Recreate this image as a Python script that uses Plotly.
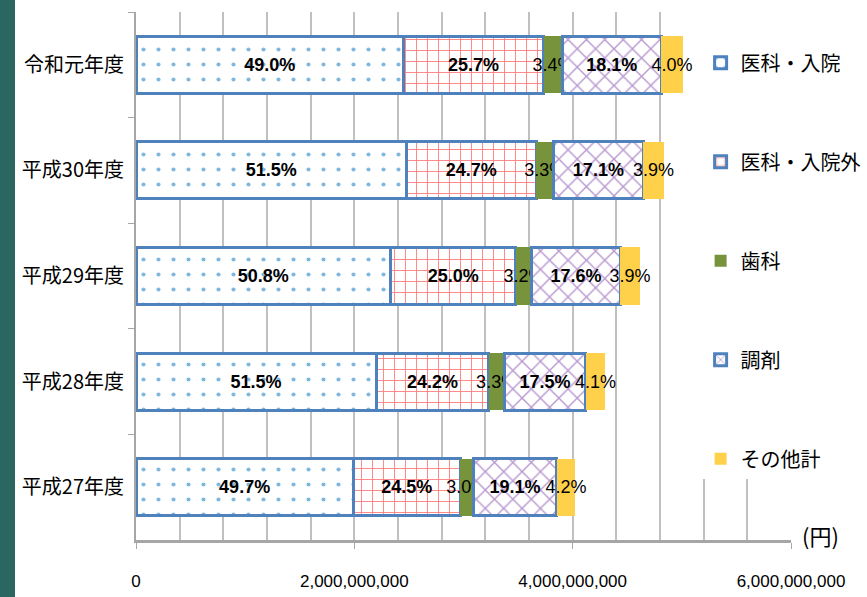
import plotly.graph_objects as go

categories = ["令和元年度", "平成30年度", "平成29年度", "平成28年度", "平成27年度"]
series_names = ["医科・入院", "医科・入院外", "歯科", "調剤", "その他計"]

# amounts in yen
inpatient = [2.450e9, 2.477e9, 2.332e9, 2.200e9, 1.990e9]
outpatient = [1.285e9, 1.188e9, 1.148e9, 1.033e9, 0.980e9]
dental = [0.170e9, 0.159e9, 0.147e9, 0.141e9, 0.120e9]
pharmacy = [0.905e9, 0.823e9, 0.808e9, 0.747e9, 0.764e9]
other = [0.200e9, 0.188e9, 0.179e9, 0.175e9, 0.168e9]

inpatient_pct = ["49.0%", "51.5%", "50.8%", "51.5%", "49.7%"]
outpatient_pct = ["25.7%", "24.7%", "25.0%", "24.2%", "24.5%"]
dental_pct = ["3.4%", "3.3%", "3.2%", "3.3%", "3.0%"]
pharmacy_pct = ["18.1%", "17.1%", "17.6%", "17.5%", "19.1%"]
other_pct = ["4.0%", "3.9%", "3.9%", "4.1%", "4.2%"]

x_tickvals = [0, 2e9, 4e9, 6e9]
x_ticktext = ["0", "2,000,000,000", "4,000,000,000", "6,000,000,000"]

NUM = "'Liberation Sans', Arial, sans-serif"
CJK = "'Noto Sans CJK JP', sans-serif"
BORDER = "#4f81bd"

specs = [
    (inpatient, inpatient_pct, dict(color="white", pattern=dict(shape=".", fgcolor="#0070c0", bgcolor="white", size=15, solidity=0.06)), 3, "bold"),
    (outpatient, outpatient_pct, dict(color="white", pattern=dict(shape="+", fgcolor="#ff0000", bgcolor="white", size=11, solidity=0.16)), 3, "bold"),
    (dental, dental_pct, dict(color="#77933c"), 0, "normal"),
    (pharmacy, pharmacy_pct, dict(color="white", pattern=dict(shape="x", fgcolor="#7030a0", bgcolor="white", size=13, solidity=0.2)), 3, "bold"),
    (other, other_pct, dict(color="#ffd04a"), 0, "normal"),
]

fig = go.Figure()
for name, (vals, labels, mk, lw, weight) in zip(series_names, specs):
    marker = dict(mk)
    marker["line"] = dict(color=BORDER, width=lw)
    fig.add_trace(go.Bar(
        y=categories, x=vals, name=name, orientation="h",
        marker=marker, text=labels, textposition="inside",
        insidetextanchor="middle", textangle=0, constraintext="none",
        textfont=dict(family=NUM, size=18, color="black", weight=weight),
        legendgroup=name, hoverinfo="skip",
    ))

fig.update_layout(
    barmode="stack", bargap=0.46,
    width=867, height=597,
    margin=dict(l=136, r=76, t=12, b=57, autoexpand=False),
    paper_bgcolor="white", plot_bgcolor="white",
    showlegend=True,
    legend=dict(
        x=0.862, y=1.0, xanchor="left", yanchor="top",
        bgcolor="white", font=dict(family=CJK, size=20, color="black"),
        traceorder="grouped", tracegroupgap=70, itemwidth=30,
        title=dict(text=" ", font=dict(size=24)),
    ),
    xaxis=dict(
        range=[0, 6e9], tickvals=x_tickvals, ticktext=x_ticktext,
        tickfont=dict(family=NUM, size=17, color="black"),
        showgrid=True, gridcolor="#c0c0c0", gridwidth=1.5,
        minor=dict(dtick=4e8, tick0=0, showgrid=True, gridcolor="#c0c0c0", gridwidth=1.5),
        showline=True, linecolor="#a6a6a6", linewidth=3,
        ticks="outside", ticklen=6, tickcolor="#a6a6a6",
        ticklabelstandoff=18, zeroline=False,
    ),
    yaxis=dict(
        categoryorder="array", categoryarray=categories, autorange="reversed",
        tickfont=dict(family=CJK, size=20, color="black"),
        showline=True, linecolor="#a6a6a6", linewidth=2,
        ticks="outside", tickson="boundaries", ticklen=6, tickcolor="#a6a6a6",
        showgrid=False, ticklabelstandoff=6,
    ),
    shapes=[dict(type="rect", xref="paper", yref="paper",
                 x0=-136/655, x1=(15-136)/655, y0=-57/528, y1=1+12/528,
                 fillcolor="#2b6761", line=dict(width=0), layer="below")],
    annotations=[dict(text="(円)", xref="paper", yref="paper",
                      x=(820-136)/655, y=1-(535-12)/528, xanchor="center", yanchor="middle",
                      showarrow=False,
                      font=dict(family=CJK, size=22, color="black"))],
)

fig.write_html("out.html")
